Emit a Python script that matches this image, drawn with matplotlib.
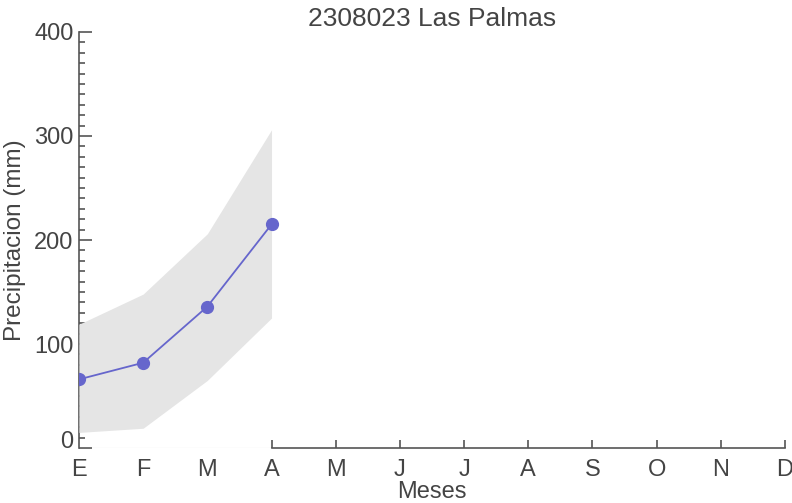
# precipitation chart, Las Palmas
import numpy as np
import matplotlib.pyplot as plt
from matplotlib.ticker import MultipleLocator

plt.rcParams['font.family'] = ['Liberation Sans', 'DejaVu Sans']

months = ["E", "F", "M", "A", "M", "J", "J", "A", "S", "O", "N", "D"]
mean_p = [66, 82, 136, 215]
low_p = [15, 19, 65, 125]
high_p = [119, 148, 206, 306]

txt = "#444444"
ax_col = "#555555"

fig = plt.figure(figsize=(7.92, 5.03), dpi=100)
ax = fig.add_axes([0.0997, 0.1093, 0.8915, 0.8271])

x = np.arange(len(mean_p))
ax.fill_between(x, low_p, high_p, color="#e5e5e5", lw=0, zorder=3)
ax.plot(x, mean_p, "-o", color="#6666cc", lw=1.3, ms=8.5, zorder=4)

ax.set_xlim(0, 11)
ax.set_ylim(0, 400)
ax.set_xticks(range(12))
ax.set_xticklabels(months)
ax.set_yticks([0, 100, 200, 300, 400])
ax.yaxis.set_minor_locator(MultipleLocator(10))

for s in ["top", "right"]:
    ax.spines[s].set_visible(False)
for s in ["left", "bottom"]:
    ax.spines[s].set_color(ax_col)
    ax.spines[s].set_linewidth(1.2)
ax.spines["bottom"].set_bounds(3, 11)
ax.axhline(0, xmax=3 / 11, color="#cccccc", lw=0.8, zorder=2)

ax.tick_params(axis="y", which="major", direction="in", length=9.5, width=1.2,
               color=ax_col, labelcolor=txt, labelsize=17, pad=4)
ax.tick_params(axis="y", which="minor", direction="in", length=4.5, width=1.2,
               color=ax_col)
ax.tick_params(axis="x", direction="in", length=5.5, width=1.2,
               color=ax_col, labelcolor=txt, labelsize=17, pad=8)
for t in ax.xaxis.get_major_ticks()[:3]:
    t.tick1line.set_visible(False)

fig.canvas.draw()
ax.yaxis.get_major_ticks()[0].label1.set_va("baseline")

ax.set_title("2308023 Las Palmas", fontsize=19, color=txt, pad=4)
ax.set_xlabel("Meses", fontsize=17, color=txt, labelpad=0)
ax.set_ylabel("Precipitacion (mm)", fontsize=17.5, color=txt, labelpad=6)

plt.savefig("out.png", dpi=100)
